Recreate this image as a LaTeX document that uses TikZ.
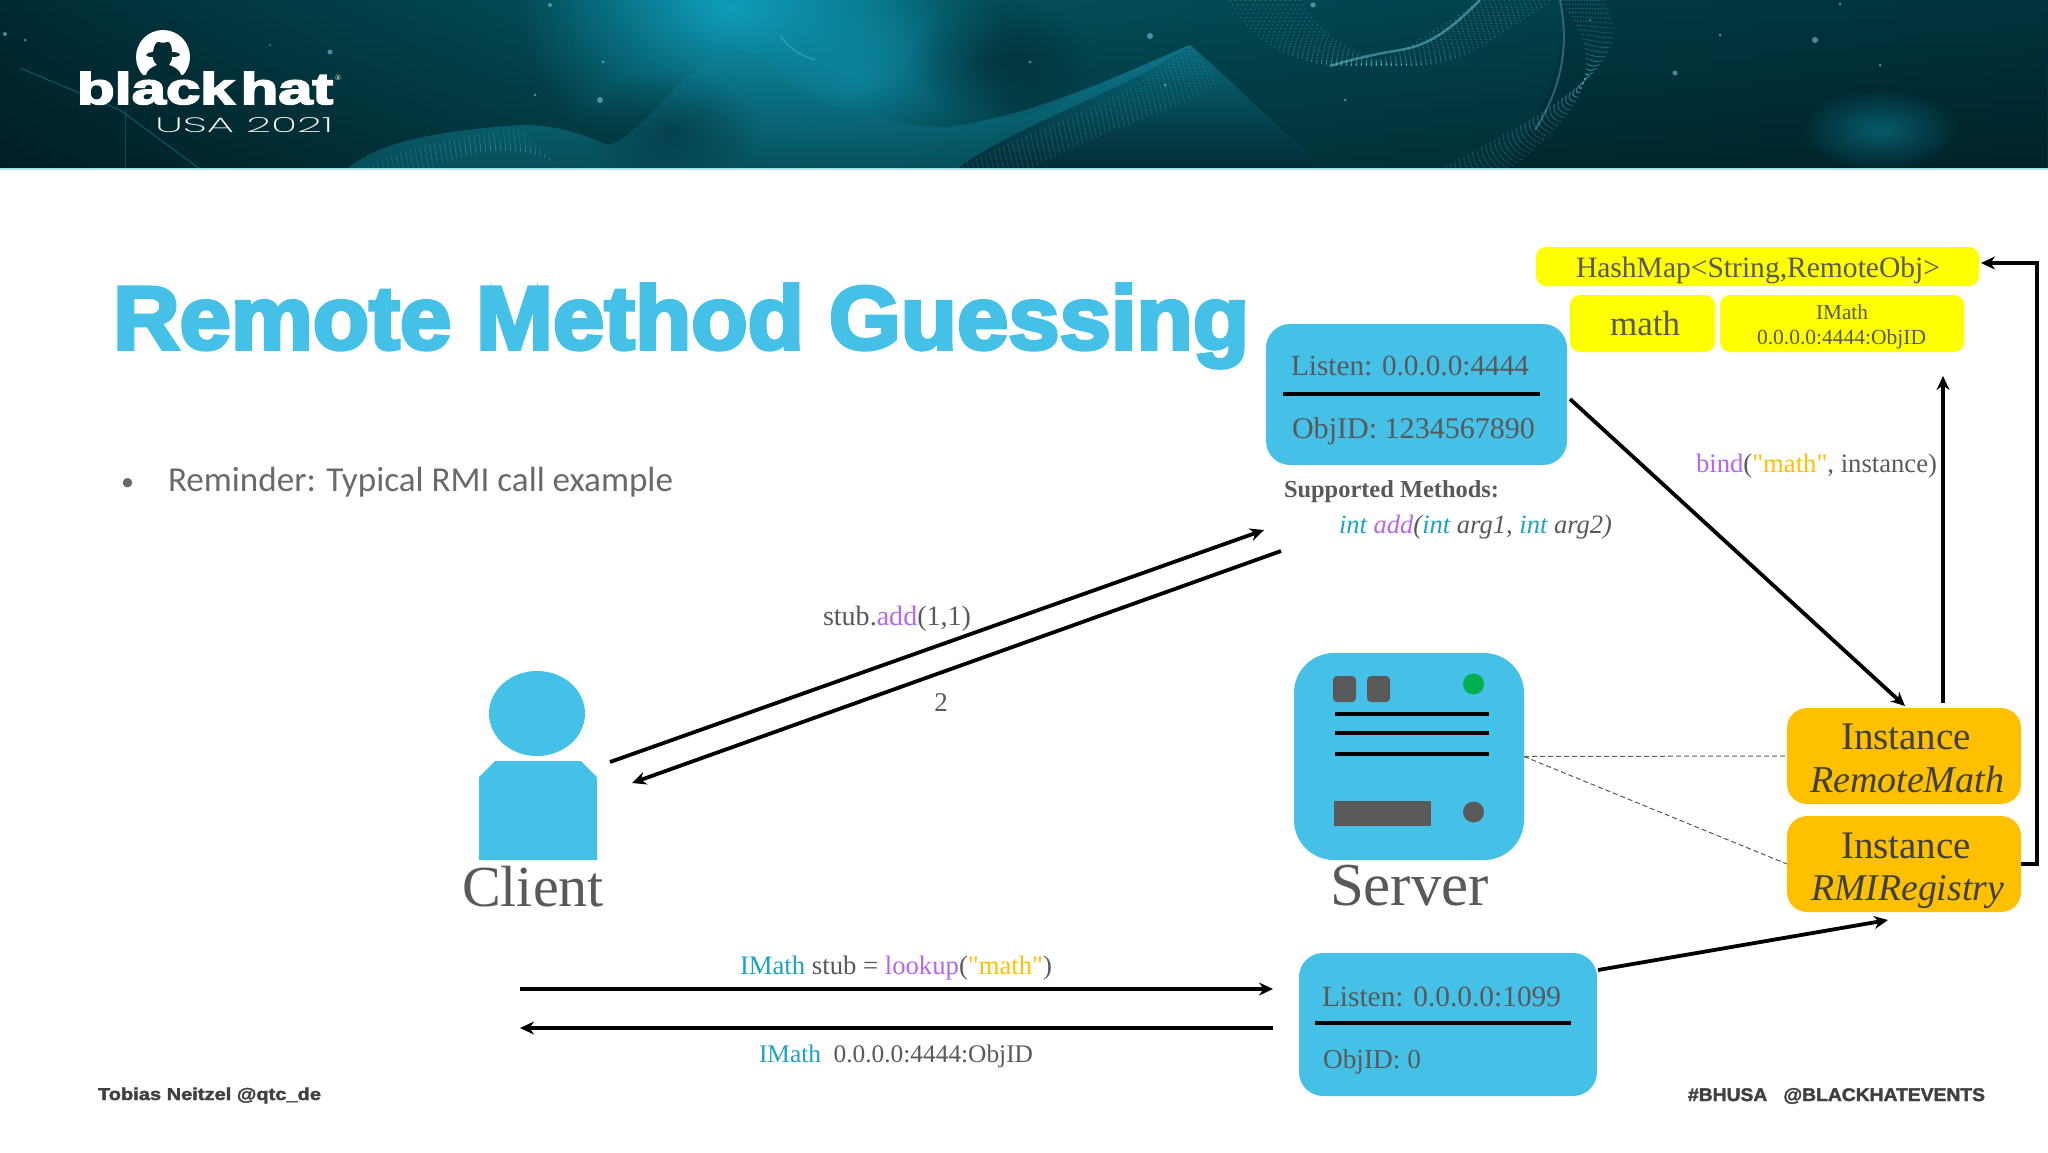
\documentclass[tikz,border=0pt]{standalone}
\usepackage{fontspec}
\usepackage{graphicx}
\usetikzlibrary{arrows.meta,fadings,shapes.geometric}
\setmainfont{Liberation Serif}
\newfontfamily\plainserif{Liberation Serif}
\newfontfamily\bodyfont{Carlito}
\newfontfamily\heavyfont[FakeBold=4]{Liberation Sans Bold}
\newfontfamily\logofont[FakeBold=3.5]{Liberation Sans Bold}
\newfontfamily\footfont[FakeBold=2]{Liberation Sans Bold}
\newfontfamily\thinfont{Poppins ExtraLight}
\definecolor{skyb}{HTML}{45C1E8}
\definecolor{gtext}{HTML}{595959}
\definecolor{dtext}{HTML}{404040}
\definecolor{bodytx}{HTML}{6A6A6A}
\definecolor{kwblue}{HTML}{1CA3C6}
\definecolor{kwpurple}{HTML}{B767EA}
\definecolor{kworange}{HTML}{FFC000}
\definecolor{ylw}{HTML}{FFFF00}
\definecolor{orng}{HTML}{FFC000}
\definecolor{grn}{HTML}{00B050}
\definecolor{bndark}{HTML}{022B34}
\definecolor{bnmid}{HTML}{04545F}
\definecolor{bnglow}{HTML}{12A9C9}
\definecolor{bnwave}{HTML}{0E8FA6}
\tikzfading[name=softglow, inner color=transparent!0, outer color=transparent!100]
\tikzfading[name=downdark, top color=transparent!100, bottom color=transparent!0]
\newcommand{\fitw}[2]{\resizebox{#1pt}{!}{#2}}
\newcommand{\kb}[1]{\textcolor{kwblue}{#1}}
\newcommand{\kp}[1]{\textcolor{kwpurple}{#1}}
\newcommand{\ko}[1]{\textcolor{kworange}{#1}}
\newcommand{\qmath}{{\plainserif"math"}}
\tikzset{
  lbl/.style={inner sep=0pt,outer sep=0pt,anchor=base west,text=gtext,font=\fontsize{15}{18}\selectfont},
  darklbl/.style={lbl,text=dtext},
  shapebox/.style={draw=none,inner sep=0pt,outer sep=0pt,anchor=north west},
  bluebox/.style={shapebox,fill=skyb,rounded corners=12pt},
  yelbox/.style={shapebox,fill=ylw,rounded corners=5pt},
  orbox/.style={shapebox,fill=orng,rounded corners=10pt},
  conn/.style={draw=black,line width=1.9pt,-{Stealth[length=7pt,width=6.5pt]}},
  divider/.style={draw=black,line width=2pt},
  dashline/.style={draw=gtext,line width=0.5pt,dash pattern=on 2.5pt off 1.5pt},
  speck/.style={fill=#1,draw=none,opacity=0.6},
}
\begin{document}
\begin{tikzpicture}[x=0.5pt,y=-0.5pt]
\useasboundingbox (0,0) rectangle (2048,1152);
\fill[white] (0,0) rectangle (2048,1152);
% ---------- banner ----------
\begin{scope}
\clip (0,0) rectangle (2048,169);
\shade[left color=bndark,right color=bnmid] (0,0) rectangle (700,169);
\shade[left color=bnmid,right color=bndark!70!bnmid] (700,0) rectangle (2048,169);
\fill[bnglow,path fading=softglow,opacity=.9] (730,10) ellipse (210 and 170);
\fill[bnglow,path fading=softglow,opacity=.75] (860,80) ellipse (170 and 120);
\shade[top color=bnwave,bottom color=bnwave!85!black,opacity=.8]
  (342,175) .. controls (370,140) and (450,130) .. (520,125)
  .. controls (570,125) and (590,140) .. (610,145)
  .. controls (650,130) and (680,60) .. (740,50)
  .. controls (790,60) and (790,100) .. (850,110)
  .. controls (900,125) and (940,130) .. (960,125)
  .. controls (1050,110) and (1130,70) .. (1190,45)
  .. controls (1220,70) and (1290,140) .. (1330,175) -- cycle;
\shade[top color=bnwave!70!bndark,bottom color=bndark,opacity=.7]
  (950,175) .. controls (1000,130) and (1130,90) .. (1190,45)
  .. controls (1230,80) and (1300,150) .. (1330,175) -- cycle;
\fill[bndark,opacity=.45,path fading=softglow] (670,130) ellipse (90 and 60);
\fill[bndark,opacity=.6,path fading=softglow] (1000,60) ellipse (90 and 60);
\fill[bndark,opacity=.35]
  (1500,175) .. controls (1540,120) and (1570,60) .. (1560,0)
  -- (2048,0) -- (2048,175) -- cycle;
\fill[black,opacity=.3,path fading=downdark] (0,0) rectangle (2048,169);
% mesh strands
\foreach \d in {0,5,...,70}{
  \draw[bnglow!70!white,line width=.5pt,dotted,opacity=.45]
    (1230+\d,0) .. controls (1260+\d,60) and (1350+\d,90) .. (1420+\d,40)
    .. controls (1450+\d,20) and (1470+\d,10) .. (1480+\d,0);
  \draw[bnglow!70!white,line width=.5pt,dotted,opacity=.4]
    (1560+\d*.6,0) .. controls (1610+\d*.5,60) and (1590-\d*.5,110) .. (1500-\d,175);
  \draw[bnglow!70!white,line width=.5pt,dotted,opacity=.35]
    (950+\d,175) .. controls (1020+\d,130) and (1140+\d,100) .. (1190+\d*.4,45+\d*.5);
  \draw[bnglow!70!white,line width=.5pt,dotted,opacity=.3]
    (350+\d,175) .. controls (390+\d,150) and (450+\d,140) .. (520+\d*.5,128+\d*.5);
}
\draw[bnglow!60!white,line width=1.2pt,opacity=.5]
  (1480,0) .. controls (1450,30) and (1430,45) .. (1400,50) .. controls (1370,55) and (1350,60) .. (1330,66);
\draw[bnglow!60!white,line width=1pt,opacity=.35]
  (1560,0) .. controls (1570,50) and (1560,90) .. (1535,130);
\draw[bnglow!60!white,line width=.8pt,opacity=.3]
  (780,35) .. controls (790,50) and (800,55) .. (815,60);
\fill[bnwave,opacity=.5,path fading=softglow] (1880,130) ellipse (80 and 40);
\draw[bnwave,line width=.5pt,opacity=.5] (20,68) -- (120,110) -- (200,169);
\draw[bnwave,line width=.5pt,opacity=.4] (125,110) -- (125,169);
\foreach \px/\py/\pr in {5/34/2,25/40/1.5,270/45/1,330/52/2.5,603/62/1.5,600/100/3,535/95/1.5,1150/36/3,1313/5/2.5,1030/62/1.5,1720/35/1.5,1815/40/3,1675/73/2.5,1880/65/1.5,550/5/2,1590/20/1,1840/4/1.5,1165/85/1.5,1345/100/1.5}{
  \fill[speck=bnglow!60!white] (\px,\py) circle (\pr);
}
\end{scope}
\fill[bnglow!35!white] (0,168) rectangle (2048,170);
% ---------- logo ----------
\begin{scope}
\clip (130,25) rectangle (196,74);
\fill[white] (163,57) circle (27);
\fill[bndark]
  (153,52) .. controls (154,46) and (156,41) .. (159,42)
  .. controls (161,43) and (165,43) .. (167,42)
  .. controls (170,41) and (172,46) .. (172,52)
  .. controls (176,52) and (180,53) .. (180,55)
  .. controls (178,57) and (174,57) .. (172,57)
  .. controls (172,61) and (170,63) .. (169,65)
  .. controls (175,67) and (180,70) .. (181,75) -- (146,75)
  .. controls (147,70) and (152,67) .. (157,65)
  .. controls (155,63) and (153,61) .. (153,57)
  .. controls (151,57) and (147,57) .. (146,55)
  .. controls (147,53) and (150,52) .. (153,52) -- cycle;
\end{scope}
\node[lbl,text=white] (logoname) at (77,104) {\resizebox{128pt}{16pt}{\logofont black\hspace{.1em}hat}};
\node[lbl,text=white,font=\fontsize{4}{4}\selectfont] (logomark) at (335,80) {®};
\node[lbl,text=white] (logoyear) at (155,132) {\resizebox{89pt}{7.5pt}{\thinfont USA 2021}};
% ---------- title and bullet ----------
\node[lbl,text=skyb] (title) at (113,349) {\resizebox{568pt}{32.5pt}{\heavyfont Remote\hspace{.27em}Method\hspace{.27em}Guessing}};
\node[lbl,text=bodytx,font=\bodyfont\fontsize{13}{18}\selectfont] (bullet) at (121,490) {•};
\node[lbl,text=bodytx,font=\bodyfont\fontsize{16}{18}\selectfont] (reminder) at (168,491) {\fitw{252.5}{Reminder: Typical RMI call example}};
% ---------- boxes ----------
\node[bluebox,minimum width=150.5pt,minimum height=70.5pt] (listenA) at (1266,324) {};
\draw[divider] (1283,394) coordinate (dAa) -- (1540,394) coordinate (dAb);
\node[lbl] (listenAt) at (1291,375) {\fitw{119}{Listen: 0.0.0.0:4444}};
\node[lbl] (objA) at (1292,438) {\fitw{121.5}{ObjID: 1234567890}};
\node[lbl,font=\bfseries\fontsize{14}{16}\selectfont] (supp) at (1284,497) {\fitw{107.5}{Supported Methods:}};
\node[lbl,font=\itshape\fontsize{14}{16}\selectfont] (sig) at (1339,533) {\fitw{136.5}{\kb{int} \kp{add}(\kb{int} arg1, \kb{int} arg2)}};
\node[yelbox,minimum width=221.5pt,minimum height=19.5pt] (hash) at (1536,247) {};
\node[lbl] (hasht) at (1576,277) {\fitw{182}{HashMap<String,RemoteObj>}};
\node[yelbox,minimum width=72.5pt,minimum height=28.5pt] (mathb) at (1570,295) {};
\node[lbl] (matht) at (1610,335) {\fitw{35}{math}};
\node[yelbox,minimum width=122pt,minimum height=28.5pt] (imathb) at (1720,295) {};
\node[lbl,anchor=base] (imatht) at (1842,319) {\fitw{26}{IMath}};
\node[lbl] (addrt) at (1757,344) {\fitw{84.5}{0.0.0.0:4444:ObjID}};
\node[lbl] (bindt) at (1696,472) {\fitw{120.5}{\kp{bind}(\ko{\qmath}, instance)}};
% server
\node[bluebox,rounded corners=20pt,minimum width=115pt,minimum height=103.5pt] (server) at (1294,653) {};
\node[shapebox,fill=gtext,rounded corners=2pt,minimum width=11.5pt,minimum height=13pt] (sq1) at (1333,676) {};
\node[shapebox,fill=gtext,rounded corners=2pt,minimum width=11.5pt,minimum height=13pt] (sq2) at (1367,676) {};
\node[circle,fill=grn,inner sep=0pt,minimum size=10.5pt] (led) at (1473.5,684) {};
\draw[divider] (1335,714) coordinate (l1a) -- (1489,714) coordinate (l1b);
\draw[divider] (1335,733) coordinate (l2a) -- (1489,733) coordinate (l2b);
\draw[divider] (1335,754) coordinate (l3a) -- (1489,754) coordinate (l3b);
\node[shapebox,fill=gtext,minimum width=48.5pt,minimum height=12.5pt] (slot) at (1334,801) {};
\node[circle,fill=gtext,inner sep=0pt,minimum size=10.5pt] (knob) at (1473.5,812) {};
\node[lbl] (servert) at (1330,905) {\fitw{79.5}{Server}};
% client
\node[ellipse,fill=skyb,inner sep=0pt,minimum width=48pt,minimum height=42.5pt] (head) at (537,713.5) {};
\fill[skyb] (479,860) -- (479,777) -- (495,761) -- (581,761) -- (597,777) -- (597,860) -- cycle;
\node[lbl] (clientt) at (462,906) {\fitw{71}{Client}};
% instances
\node[orbox,minimum width=117pt,minimum height=48pt] (rmath) at (1787,708) {};
\node[orbox,minimum width=117pt,minimum height=48pt] (rmi) at (1787,816) {};
\node[darklbl] (i1) at (1841,749) {\fitw{65}{Instance}};
\node[darklbl,font=\itshape\fontsize{15}{18}\selectfont] (i2) at (1810,792) {\fitw{97}{RemoteMath}};
\node[darklbl] (i3) at (1841,858) {\fitw{65}{Instance}};
\node[darklbl,font=\itshape\fontsize{15}{18}\selectfont] (i4) at (1811,900) {\fitw{96.5}{RMIRegistry}};
% registry listener
\node[bluebox,minimum width=149pt,minimum height=71.5pt] (listenB) at (1299,953) {};
\draw[divider] (1315,1023) coordinate (dBa) -- (1571,1023) coordinate (dBb);
\node[lbl] (listenBt) at (1322,1006) {\fitw{119.5}{Listen: 0.0.0.0:1099}};
\node[lbl] (objB) at (1323,1068) {\fitw{49}{ObjID: 0}};
% labels
\node[lbl] (stubt) at (823,625) {\fitw{74}{stub.\kp{add}(1,1)}};
\node[lbl,anchor=base,font=\fontsize{13.5}{16}\selectfont] (twot) at (941,711) {2};
\node[lbl] (lookt) at (740,974) {\fitw{156}{\kb{IMath} stub = \kp{lookup}(\ko{\qmath})}};
\node[lbl] (rett) at (759,1062) {\fitw{137}{\kb{IMath}\ \ 0.0.0.0:4444:ObjID}};
% footer
\node[lbl,text=dtext] (footl) at (98,1100) {\resizebox{111.5pt}{6.2pt}{\footfont Tobias Neitzel @qtc\_de}};
\node[lbl,text=dtext] (footr) at (1688,1101) {\resizebox{148.5pt}{6.5pt}{\footfont \#BHUSA\ \ \ @BLACKHATEVENTS}};
% ---------- connectors ----------
\coordinate (c1s) at (610,762); \coordinate (c1e) at (1264,530);
\coordinate (c2s) at (1281,551); \coordinate (c2e) at (632,783);
\draw[conn] (c1s) -- (c1e);
\draw[conn] (c2s) -- (c2e);
\coordinate (c3s) at (520,989); \coordinate (c3e) at (1273,989);
\coordinate (c4s) at (1273,1028); \coordinate (c4e) at (520,1028);
\draw[conn] (c3s) -- (c3e);
\draw[conn] (c4s) -- (c4e);
\coordinate (c5s) at (1570,399); \coordinate (c5e) at (1905,706);
\draw[conn] (c5s) -- (c5e);
\coordinate (c6s) at (1943,703); \coordinate (c6e) at (1943,376);
\draw[conn] (c6s) -- (c6e);
\coordinate (c7s) at (1598,970); \coordinate (c7e) at (1888,920);
\draw[conn] (c7s) -- (c7e);
\coordinate (c8k) at (2037,864); \coordinate (c8j) at (2037,263); \coordinate (c8e) at (1981,263);
\draw[conn] (rmi.east) -- (c8k) -- (c8j) -- (c8e);
\draw[dashline] (server.east) -- (rmath.west);
\draw[dashline] (server.east) -- (rmi.west);
\end{tikzpicture}
\end{document}
